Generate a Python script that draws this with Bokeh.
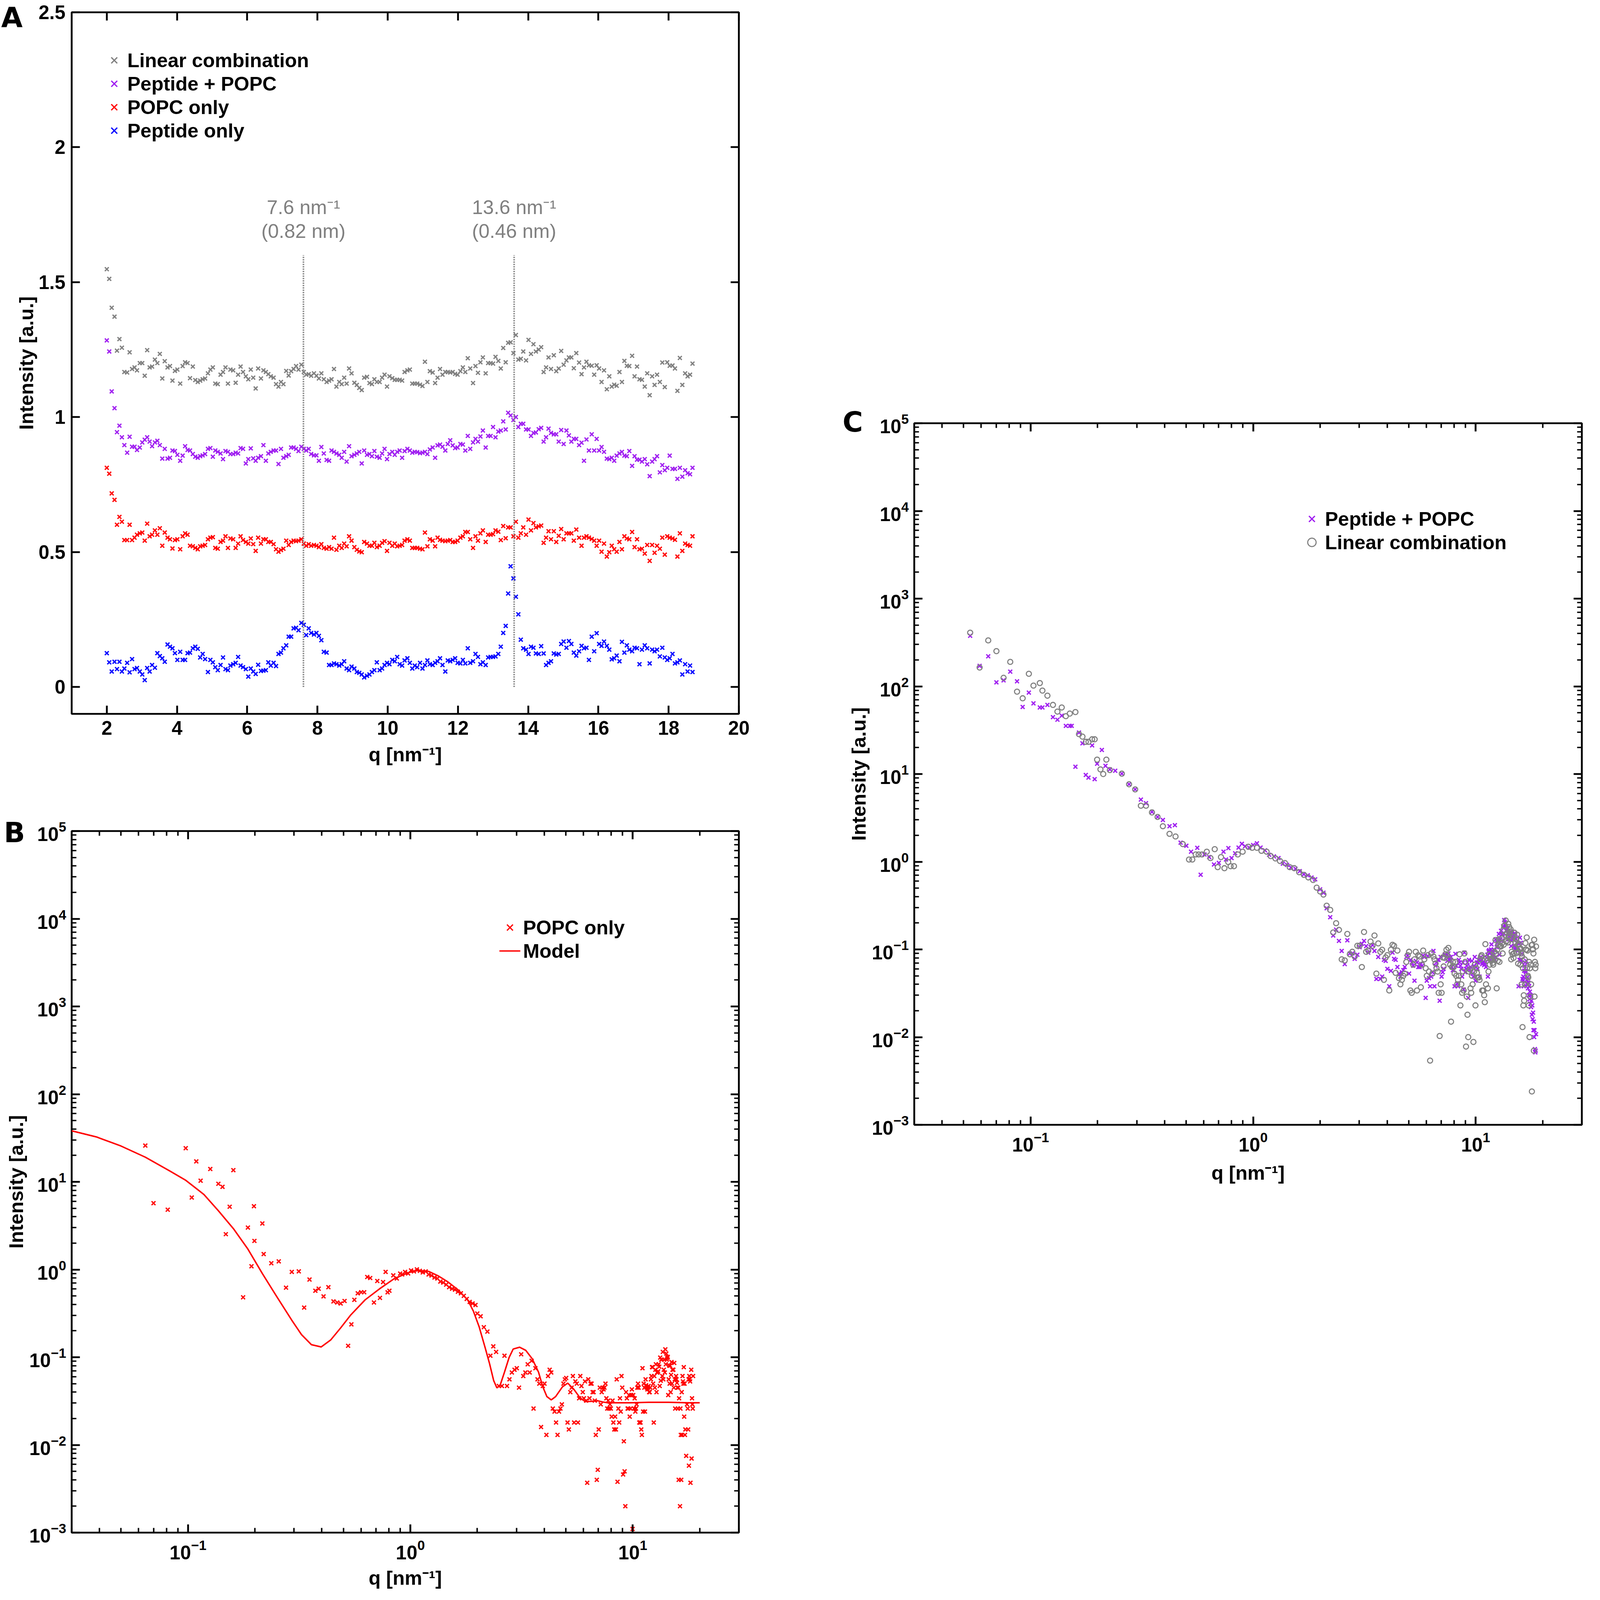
from bokeh.plotting import figure
from bokeh.models import (FixedTicker, LinearAxis, LogAxis, Legend, LegendItem,
                          Label, Range1d, Spacer, Div)
from bokeh.layouts import row, column
from bokeh.embed import file_html
from bokeh.resources import INLINE

NAN = float("nan")
FONT = "Liberation Sans"
GRAY = "#808080"
PURPLE = "#A020F0"
RED = "#FF0000"
BLUE = "#0000FF"

# ---------------- data ----------------
q_waxs = [
    2.00, 2.07, 2.14, 2.22, 2.29, 2.36, 2.43, 2.50, 2.58, 2.65,
    2.72, 2.79, 2.86, 2.94, 3.01, 3.08, 3.15, 3.22, 3.29, 3.37,
    3.44, 3.51, 3.58, 3.65, 3.73, 3.80, 3.87, 3.94, 4.01, 4.09,
    4.16, 4.23, 4.30, 4.37, 4.45, 4.52, 4.59, 4.66, 4.73, 4.80,
    4.88, 4.95, 5.02, 5.09, 5.16, 5.24, 5.31, 5.38, 5.45, 5.52,
    5.60, 5.67, 5.74, 5.81, 5.88, 5.96, 6.03, 6.10, 6.17, 6.24,
    6.31, 6.39, 6.46, 6.53, 6.60, 6.67, 6.75, 6.82, 6.89, 6.96,
    7.03, 7.11, 7.18, 7.25, 7.32, 7.39, 7.46, 7.54, 7.61, 7.68,
    7.75, 7.82, 7.90, 7.97, 8.04, 8.11, 8.18, 8.26, 8.33, 8.40,
    8.47, 8.54, 8.62, 8.69, 8.76, 8.83, 8.90, 8.97, 9.05, 9.12,
    9.19, 9.26, 9.33, 9.41, 9.48, 9.55, 9.62, 9.69, 9.77, 9.84,
    9.91, 9.98, 10.05, 10.13, 10.20, 10.27, 10.34, 10.41, 10.48, 10.56,
    10.63, 10.70, 10.77, 10.84, 10.92, 10.99, 11.06, 11.13, 11.20, 11.28,
    11.35, 11.42, 11.49, 11.56, 11.64, 11.71, 11.78, 11.85, 11.92, 11.99,
    12.07, 12.14, 12.21, 12.28, 12.35, 12.43, 12.50, 12.57, 12.64, 12.71,
    12.79, 12.86, 12.93, 13.00, 13.07, 13.15, 13.22, 13.29, 13.36, 13.43,
    13.50, 13.58, 13.65, 13.72, 13.79, 13.86, 13.94, 14.01, 14.08, 14.15,
    14.22, 14.30, 14.37, 14.44, 14.51, 14.58, 14.65, 14.73, 14.80, 14.87,
    14.94, 15.01, 15.09, 15.16, 15.23, 15.30, 15.37, 15.45, 15.52, 15.59,
    15.66, 15.73, 15.81, 15.88, 15.95, 16.02, 16.09, 16.16, 16.24, 16.31,
    16.38, 16.45, 16.52, 16.60, 16.67, 16.74, 16.81, 16.88, 16.96, 17.03,
    17.10, 17.17, 17.24, 17.32, 17.39, 17.46, 17.53, 17.60, 17.67, 17.75,
    17.82, 17.89, 17.96, 18.03, 18.11, 18.18, 18.25, 18.32, 18.39, 18.47,
    18.54, 18.61, 18.68,
]

a_linear_comb = [
    1.548, 1.512, 1.405, 1.372, 1.246, 1.289, 1.257, 1.167, 1.165, 1.240,
    1.178, 1.184, 1.173, 1.200, 1.200, 1.153, 1.248, 1.184, 1.187, 1.213,
    1.200, 1.234, 1.143, 1.207, 1.184, 1.189, 1.135, 1.171, 1.176, 1.124,
    1.189, 1.203, 1.200, 1.144, 1.187, 1.137, 1.130, 1.135, 1.140, 1.143,
    1.162, 1.176, 1.184, 1.124, 1.122, 1.157, 1.167, 1.184, 1.124, 1.176,
    1.173, 1.127, 1.157, 1.187, 1.167, 1.151, 1.140, 1.176, 1.146, 1.106,
    1.180, 1.143, 1.173, 1.167, 1.159, 1.151, 1.146, 1.122, 1.113, 1.130,
    1.122, 1.171, 1.154, 1.170, 1.178, 1.189, 1.176, 1.194, 1.167, 1.157,
    1.159, 1.153, 1.162, 1.153, 1.143, 1.162, 1.140, 1.130, 1.135, 1.140,
    1.178, 1.113, 1.130, 1.122, 1.146, 1.124, 1.180, 1.162, 1.127, 1.119,
    1.108, 1.100, 1.146, 1.149, 1.126, 1.122, 1.140, 1.130, 1.130, 1.146,
    1.157, 1.113, 1.151, 1.144, 1.138, 1.138, 1.138, 1.135, 1.167, 1.173,
    1.176, 1.124, 1.124,
    1.124, 1.120, 1.115, 1.205, 1.130, 1.170, 1.165, 1.126, 1.146, 1.178,
    1.157, 1.167, 1.167, 1.165, 1.167, 1.160, 1.157, 1.170, 1.184, 1.167,
    1.218, 1.180, 1.126, 1.189, 1.164, 1.203, 1.221, 1.162, 1.200, 1.200,
    1.198, 1.223, 1.208, 1.180, 1.256, 1.203, 1.275, 1.277, 1.237, 1.304,
    1.213, 1.216, 1.243, 1.210, 1.286, 1.234, 1.270, 1.243, 1.250, 1.259,
    1.167, 1.184, 1.221, 1.178, 1.229, 1.170, 1.180, 1.245, 1.194, 1.210,
    1.221, 1.221, 1.181, 1.237, 1.202, 1.159, 1.184, 1.205, 1.192, 1.190,
    1.157, 1.192, 1.180, 1.130, 1.173, 1.103, 1.151, 1.113, 1.120, 1.116,
    1.167, 1.130, 1.208, 1.190, 1.189, 1.227, 1.151, 1.187, 1.140, 1.138,
    1.113, 1.162, 1.081, 1.151, 1.119, 1.157, 1.130, 1.202, 1.111, 1.203,
    1.190, 1.191, 1.180, 1.097, 1.219, 1.119, 1.162, 1.151, 1.157, 1.198,
]

a_peptide_popc = [
    1.284, 1.243, 1.095, 1.033, 0.944, 0.968, 0.925, 0.896, 0.868, 0.927,
    0.890, 0.890, 0.878, 0.887, 0.906, 0.916, 0.925, 0.909, 0.892, 0.906,
    0.912, 0.896, 0.846, 0.882, 0.846, 0.849, 0.876, 0.874, 0.860, 0.838,
    0.857, 0.892, 0.878, 0.876, 0.863, 0.853, 0.849, 0.855, 0.858, 0.863,
    0.882, 0.885, 0.853, 0.876, 0.871, 0.865, 0.844, 0.874, 0.871, 0.863,
    0.863, 0.868, 0.865, 0.885, 0.882, 0.828, 0.844, 0.884, 0.847, 0.838,
    0.849, 0.855, 0.896, 0.838, 0.865, 0.871, 0.876, 0.876, 0.826, 0.882,
    0.849, 0.855, 0.860, 0.887, 0.887, 0.882, 0.874, 0.890, 0.882, 0.876,
    0.882, 0.863, 0.858, 0.858, 0.838, 0.889, 0.865, 0.841, 0.838, 0.876,
    0.871, 0.865, 0.860, 0.849, 0.871, 0.835, 0.892, 0.855, 0.860, 0.865,
    0.871, 0.828, 0.876, 0.860, 0.863, 0.855, 0.874, 0.853, 0.849, 0.865,
    0.882, 0.844, 0.863, 0.871, 0.860, 0.871, 0.876, 0.849, 0.874, 0.882,
    0.876, 0.868, 0.871,
    0.870, 0.866, 0.868, 0.871, 0.863, 0.880, 0.887, 0.849, 0.895, 0.898,
    0.890, 0.876, 0.900, 0.914, 0.895, 0.885, 0.887, 0.900, 0.898, 0.876,
    0.930, 0.882, 0.906, 0.919, 0.909, 0.928, 0.950, 0.887, 0.930, 0.930,
    0.963, 0.925, 0.946, 0.950, 0.984, 0.954, 1.016, 1.006, 0.989, 1.000,
    0.963, 0.975, 0.975, 0.954, 0.954, 0.930, 0.941, 0.943, 0.955, 0.960,
    0.909, 0.925, 0.957, 0.941, 0.936, 0.936, 0.909, 0.952, 0.900, 0.950,
    0.932, 0.909, 0.919, 0.919, 0.896, 0.905, 0.838, 0.917, 0.876, 0.936,
    0.876, 0.919, 0.876, 0.889, 0.871, 0.846, 0.844, 0.849, 0.838, 0.857,
    0.865, 0.871, 0.857, 0.855, 0.874, 0.819, 0.855, 0.842, 0.842, 0.835,
    0.844, 0.825, 0.781, 0.835, 0.844, 0.855, 0.795, 0.822, 0.803, 0.812,
    0.857, 0.808, 0.808, 0.771, 0.812, 0.779, 0.803, 0.792, 0.788, 0.812,
]

a_popc_only = [
    0.812, 0.790, 0.717, 0.693, 0.601, 0.630, 0.612, 0.544, 0.544, 0.601,
    0.544, 0.553, 0.564, 0.569, 0.572, 0.542, 0.605, 0.558, 0.564, 0.580,
    0.564, 0.588, 0.523, 0.572, 0.553, 0.547, 0.513, 0.544, 0.547, 0.510,
    0.558, 0.569, 0.564, 0.523, 0.521, 0.515, 0.510, 0.521, 0.523, 0.526,
    0.547, 0.553, 0.555, 0.515, 0.512, 0.537, 0.542, 0.558, 0.515, 0.550,
    0.547, 0.515, 0.531, 0.558, 0.544, 0.537, 0.531, 0.550, 0.529, 0.504,
    0.553, 0.531, 0.547, 0.547, 0.537, 0.537, 0.529, 0.510, 0.501, 0.507,
    0.512, 0.542, 0.526, 0.537, 0.542, 0.540, 0.542, 0.547, 0.531, 0.523,
    0.529, 0.523, 0.526, 0.523, 0.518, 0.529, 0.515, 0.512, 0.518, 0.512,
    0.553, 0.508, 0.523, 0.515, 0.531, 0.521, 0.558, 0.542, 0.518, 0.508,
    0.502, 0.499, 0.537, 0.531, 0.523, 0.523, 0.534, 0.518, 0.523, 0.534,
    0.540, 0.504, 0.534, 0.523, 0.531, 0.521, 0.523, 0.526, 0.542, 0.547,
    0.542, 0.515, 0.515,
    0.515, 0.512, 0.510, 0.572, 0.521, 0.547, 0.542, 0.521, 0.553, 0.545,
    0.542, 0.540, 0.542, 0.544, 0.537, 0.537, 0.542, 0.553, 0.558, 0.574,
    0.574, 0.547, 0.515, 0.558, 0.542, 0.569, 0.580, 0.537, 0.564, 0.564,
    0.566, 0.580, 0.575, 0.544, 0.596, 0.551, 0.591, 0.591, 0.558, 0.612,
    0.553, 0.569, 0.591, 0.564, 0.620, 0.580, 0.607, 0.591, 0.595, 0.598,
    0.534, 0.553, 0.577, 0.547, 0.577, 0.537, 0.560, 0.585, 0.547, 0.569,
    0.569, 0.569, 0.542, 0.583, 0.553, 0.523, 0.553, 0.558, 0.553, 0.548,
    0.542, 0.523, 0.542, 0.501, 0.531, 0.483, 0.499, 0.523, 0.510, 0.501,
    0.537, 0.510, 0.558, 0.550, 0.547, 0.574, 0.518, 0.547, 0.510, 0.512,
    0.494, 0.526, 0.467, 0.526, 0.497, 0.523, 0.512, 0.553, 0.490, 0.558,
    0.553, 0.550, 0.545, 0.483, 0.569, 0.504, 0.531, 0.526, 0.523, 0.558,
]

a_peptide_only = [
    0.125, 0.091, 0.057, 0.093, 0.066, 0.093, 0.057, 0.068, 0.089, 0.054,
    0.103, 0.066, 0.070, 0.057, 0.046, 0.025, 0.070, 0.057, 0.081, 0.071,
    0.125, 0.114, 0.106, 0.093, 0.157, 0.149, 0.143, 0.125, 0.100, 0.130,
    0.100, 0.100, 0.125, 0.127, 0.143, 0.149, 0.141, 0.109, 0.122, 0.103,
    0.055, 0.100, 0.091, 0.073, 0.062, 0.081, 0.109, 0.066, 0.062, 0.079,
    0.084, 0.089, 0.111, 0.079, 0.073, 0.066, 0.038, 0.068, 0.057, 0.048,
    0.082, 0.059, 0.060, 0.062, 0.091, 0.079, 0.089, 0.077, 0.122, 0.127,
    0.143, 0.154, 0.186, 0.186, 0.217, 0.219, 0.210, 0.237, 0.230, 0.192,
    0.217, 0.200, 0.194, 0.200, 0.189, 0.173, 0.130, 0.127, 0.081, 0.081,
    0.087, 0.084, 0.079, 0.084, 0.095, 0.068, 0.062, 0.075, 0.068, 0.055,
    0.052, 0.046, 0.035, 0.041, 0.046, 0.055, 0.062, 0.091, 0.062, 0.068,
    0.081, 0.089, 0.084, 0.100, 0.095, 0.111, 0.084, 0.079, 0.098, 0.106,
    0.089, 0.068, 0.079,
    0.073, 0.089, 0.068, 0.081, 0.098, 0.084, 0.081, 0.089, 0.095, 0.106,
    0.081, 0.057, 0.098, 0.095, 0.100, 0.106, 0.089, 0.087, 0.100, 0.087,
    0.143, 0.089, 0.095, 0.122, 0.111, 0.084, 0.091, 0.081, 0.109, 0.111,
    0.111, 0.113, 0.122, 0.149, 0.200, 0.226, 0.346, 0.447, 0.402, 0.334,
    0.269, 0.175, 0.143, 0.138, 0.122, 0.149, 0.145, 0.124, 0.122, 0.151,
    0.124, 0.081, 0.089, 0.095, 0.124, 0.120, 0.122, 0.159, 0.168, 0.145,
    0.170, 0.159, 0.127, 0.116, 0.132, 0.152, 0.143, 0.145, 0.100, 0.186,
    0.132, 0.199, 0.159, 0.152, 0.168, 0.152, 0.138, 0.102, 0.106, 0.116,
    0.095, 0.167, 0.127, 0.154, 0.138, 0.132, 0.145, 0.143, 0.084, 0.138,
    0.154, 0.143, 0.087, 0.138, 0.132, 0.138, 0.113, 0.145, 0.109, 0.100,
    0.106, 0.122, 0.087, 0.091, 0.098, 0.046, 0.084, 0.057, 0.079, 0.055,
]

peak_q = [7.6, 13.6]
peak_line_top = [1.6, 1.6]
peak_label_q = ["7.6 nm\u207b\u00b9", "13.6 nm\u207b\u00b9"]
peak_label_d = ["(0.82 nm)", "(0.46 nm)"]

b_q_saxs = [
    0.0643, 0.0700, 0.0811, 0.0977, 0.104, 0.109, 0.114, 0.126, 0.137, 0.143,
    0.148, 0.154, 0.160, 0.177, 0.186, 0.193, 0.198, 0.199, 0.216, 0.219,
    0.237, 0.256, 0.276, 0.293, 0.315, 0.333, 0.352, 0.374, 0.387, 0.407,
    0.428, 0.451, 0.469, 0.486, 0.506, 0.525, 0.543, 0.560, 0.580, 0.601,
    0.620, 0.640, 0.660, 0.686, 0.710, 0.730, 0.754, 0.774, 0.790, 0.805,
    0.838, 0.869, 0.900, 0.919, 0.947, 0.977, 1.007, 1.038, 1.070, 1.103,
    1.137, 1.172, 1.208, 1.245, 1.284, 1.323, 1.364, 1.406, 1.449, 1.494,
    1.540, 1.587, 1.636, 1.687, 1.739, 1.792, 1.848, 1.905, 1.963,
]
b_i_saxs = [
    25.9, 5.71, 4.81, 24.2, 6.62, 17.1, 10.3, 14.0, 9.5, 8.77,
    2.53, 5.2, 13.6, 0.482, 3.01, 1.09, 5.27, 2.12, 3.35, 1.5,
    1.18, 1.24, 0.621, 0.94, 0.953, 0.368, 0.769, 0.573, 0.604, 0.494,
    0.629, 0.433, 0.421, 0.41, 0.438, 0.135, 0.237, 0.451, 0.536, 0.551,
    0.551, 0.822, 0.80, 0.421, 0.74, 0.475, 0.72, 0.94, 0.55, 0.573,
    0.858, 0.79, 0.90, 0.879, 0.940, 0.902, 0.977, 0.952, 1.005, 0.966,
    0.927, 0.952, 0.879, 0.855, 0.811, 0.790, 0.729, 0.710, 0.673, 0.629,
    0.604, 0.589, 0.558, 0.536, 0.501, 0.462, 0.427, 0.410, 0.394,
]
b_i_waxs = [
    0.315, 0.293, 0.220, 0.196, 0.104, 0.133, 0.115, 0.047, 0.047, 0.104,
    0.047, 0.056, 0.067, 0.072, 0.075, 0.045, 0.108, 0.061, 0.067, 0.083,
    0.067, 0.091, 0.026, 0.075, 0.056, 0.050, 0.016, 0.047, 0.050, 0.013,
    0.061, 0.072, 0.067, 0.026, 0.024, 0.018, 0.013, 0.024, 0.026, 0.029,
    0.050, 0.056, 0.058, 0.018, 0.015, 0.040, 0.045, 0.061, 0.018, 0.053,
    0.050, 0.018, 0.034, 0.061, 0.047, 0.040, 0.034, 0.053, 0.032, 0.0037,
    0.056, 0.034, 0.050, 0.050, 0.040, 0.040, 0.032, 0.013, 0.004, 0.0052,
    0.015, 0.045, 0.029, 0.040, 0.045, 0.043, 0.045, 0.050, 0.034, 0.026,
    0.032, 0.026, 0.029, 0.026, 0.021, 0.032, 0.018, 0.015, 0.021, 0.015,
    0.056, 0.0038, 0.026, 0.018, 0.034, 0.024, 0.061, 0.045, 0.0046, 0.011,
    0.005, 0.002, 0.040, 0.034, 0.026, 0.026, 0.037, 0.021, 0.026, 0.037,
    0.043, 0.0011, 0.037, 0.026, 0.034, 0.024, 0.026, 0.029, 0.045, 0.050,
    0.045, 0.018, 0.018, 0.018, 0.015, 0.013, 0.075, 0.024, 0.050, 0.045,
    0.024, 0.056, 0.048, 0.045, 0.043, 0.045, 0.047, 0.040, 0.040, 0.045,
    0.056, 0.061, 0.077, 0.077, 0.050, 0.018, 0.061, 0.045, 0.072, 0.083,
    0.040, 0.067, 0.067, 0.069, 0.083, 0.078, 0.047, 0.099, 0.054, 0.094,
    0.094, 0.061, 0.115, 0.056, 0.072, 0.094, 0.067, 0.123, 0.083, 0.110,
    0.094, 0.098, 0.101, 0.037, 0.056, 0.080, 0.050, 0.080, 0.040, 0.063,
    0.088, 0.050, 0.072, 0.072, 0.072, 0.045, 0.086, 0.056, 0.026, 0.056,
    0.061, 0.056, 0.051, 0.045, 0.026, 0.045, 0.004, 0.034, NAN, 0.002,
    0.026, 0.013, 0.004, 0.040, 0.013, 0.061, 0.053, 0.050, 0.077, 0.021,
    0.050, 0.013, 0.015, NAN, 0.0075, NAN, 0.029, NAN, 0.026, 0.015,
    0.056, 0.0058, 0.061, 0.056, 0.053, 0.0037, NAN, 0.072, 0.007, 0.034,
    0.029, 0.026, 0.061,
]
model_q = [
    0.030, 0.0388, 0.050, 0.0643, 0.0828, 0.0978, 0.118, 0.137, 0.160, 0.186,
    0.216, 0.252, 0.293, 0.324, 0.359, 0.397, 0.439, 0.486, 0.538, 0.626,
    0.728, 0.848, 0.987, 1.092, 1.208, 1.337, 1.479, 1.636, 1.81, 1.92,
    2.04, 2.17, 2.27, 2.37, 2.45, 2.53, 2.65, 2.78, 2.90, 3.10,
    3.30, 3.53, 3.77, 3.94, 4.11, 4.30, 4.50, 4.83, 5.10, 5.43,
    5.79, 6.12, 6.54, 6.93, 7.33, 7.73, 9.70, 11.8, 14.5, 17.8, 20.0,
]
model_i = [
    38.2, 32.5, 25.6, 19.1, 13.3, 10.4, 7.17, 4.68, 2.93, 1.71,
    0.90, 0.481, 0.264, 0.181, 0.139, 0.131, 0.158, 0.216, 0.301, 0.451,
    0.604, 0.79, 0.927, 0.977, 0.952, 0.844, 0.719, 0.589, 0.451, 0.336,
    0.221, 0.128, 0.0847, 0.054, 0.0447, 0.0475, 0.0676, 0.0993, 0.124, 0.130,
    0.12, 0.0962, 0.0676, 0.046, 0.0356, 0.0326, 0.0356, 0.046, 0.0507, 0.0432,
    0.0345, 0.0312, 0.0314, 0.0319, 0.0309, 0.0302, 0.0302, 0.0306, 0.0306, 0.0302, 0.0302,
]

c_q_saxs_pp = [
    0.0535, 0.059, 0.0645, 0.0702, 0.0756, 0.081, 0.0869, 0.0921, 0.0982, 0.103,
    0.110, 0.113, 0.119, 0.126, 0.132, 0.138, 0.144, 0.150, 0.153, 0.159,
    0.165, 0.171, 0.177, 0.182, 0.189, 0.194, 0.199, 0.209, 0.217, 0.227,
    0.240, 0.257, 0.277, 0.295, 0.313, 0.330, 0.351, 0.372, 0.393, 0.421,
    0.445, 0.472, 0.501, 0.526, 0.561, 0.581, 0.604, 0.635, 0.667, 0.701,
    0.736, 0.755, 0.774, 0.800, 0.830, 0.860, 0.890, 0.920, 0.960, 1.000,
    1.040, 1.080, 1.130, 1.180, 1.240, 1.300, 1.360, 1.420, 1.480, 1.550,
    1.620, 1.690, 1.760, 1.830, 1.900,
]
c_i_saxs_pp = [
    377, 171, 220, 111, 117, 147, 114, 58.2, 84.8, 63.9,
    57.4, 57.4, 61.4, 44.5, 41.6, 46.3, 35.4, 35.4, 35.4, 12.1,
    29.7, 22.4, 9.75, 9.1, 21.2, 8.75, 13.1, 18.8, 12.4, 11.3,
    10.9, 10.1, 7.64, 6.68, 5.11, 4.65, 3.70, 3.24, 2.99, 2.54,
    2.61, 1.65, 1.52, 1.30, 1.44, 0.71, 1.21, 1.13, 0.93, 0.97,
    1.30, 1.06, 1.43, 1.10, 1.25, 1.45, 1.60, 1.50, 1.45, 1.55,
    1.62, 1.45, 1.35, 1.20, 1.15, 1.10, 0.95, 0.92, 0.86, 0.83,
    0.78, 0.72, 0.70, 0.66, 0.63,
]
c_i_waxs_pp = [
    0.484, 0.443, 0.295, 0.233, 0.144, 0.168, 0.125, 0.096, 0.068, 0.127,
    0.090, 0.090, 0.078, 0.087, 0.106, 0.116, 0.125, 0.109, 0.092, 0.106,
    0.112, 0.096, 0.046, 0.082, 0.046, 0.049, 0.076, 0.074, 0.060, 0.038,
    0.057, 0.092, 0.078, 0.076, 0.063, 0.053, 0.049, 0.055, 0.058, 0.063,
    0.082, 0.085, 0.053, 0.076, 0.071, 0.065, 0.044, 0.074, 0.071, 0.063,
    0.063, 0.068, 0.065, 0.085, 0.082, 0.028, 0.044, 0.084, 0.047, 0.038,
    0.049, 0.055, 0.096, 0.038, 0.065, 0.071, 0.076, 0.076, 0.026, 0.082,
    0.049, 0.055, 0.060, 0.087, 0.087, 0.082, 0.074, 0.090, 0.082, 0.076,
    0.082, 0.063, 0.058, 0.058, 0.038, 0.089, 0.065, 0.041, 0.038, 0.076,
    0.071, 0.065, 0.060, 0.049, 0.071, 0.035, 0.092, 0.055, 0.060, 0.065,
    0.071, 0.028, 0.076, 0.060, 0.063, 0.055, 0.074, 0.053, 0.049, 0.065,
    0.082, 0.044, 0.063, 0.071, 0.060, 0.071, 0.076, 0.049, 0.074, 0.082,
    0.076, 0.068, 0.071, 0.070, 0.066, 0.068, 0.071, 0.063, 0.080, 0.087,
    0.049, 0.095, 0.098, 0.090, 0.076, 0.100, 0.114, 0.095, 0.085, 0.087,
    0.100, 0.098, 0.076, 0.130, 0.082, 0.106, 0.119, 0.109, 0.128, 0.150,
    0.087, 0.130, 0.130, 0.163, 0.125, 0.146, 0.150, 0.184, 0.154, 0.216,
    0.206, 0.189, 0.200, 0.163, 0.175, 0.175, 0.154, 0.154, 0.130, 0.141,
    0.143, 0.155, 0.160, 0.109, 0.125, 0.157, 0.141, 0.136, 0.136, 0.109,
    0.152, 0.100, 0.150, 0.132, 0.109, 0.119, 0.119, 0.096, 0.105, 0.038,
    0.117, 0.076, 0.136, 0.076, 0.119, 0.076, 0.089, 0.071, 0.046, 0.044,
    0.049, 0.038, 0.057, 0.065, 0.071, 0.057, 0.055, 0.074, 0.045, 0.040,
    0.048, 0.036, 0.042, 0.030, 0.038, 0.027, 0.033, 0.024, 0.030, 0.022,
    0.026, 0.018, 0.023, 0.016, 0.019, 0.012, 0.015, 0.010, 0.012, 0.0073,
    0.0067, 0.0070, 0.0108,
]
c_q_saxs_lc = [
    0.0535, 0.059, 0.0645, 0.0702, 0.0756, 0.081, 0.0869, 0.0921, 0.0982, 0.103,
    0.110, 0.113, 0.119, 0.126, 0.132, 0.138, 0.144, 0.150, 0.159, 0.165,
    0.171, 0.177, 0.182, 0.189, 0.194, 0.199, 0.206, 0.212, 0.219, 0.227,
    0.257, 0.277, 0.295, 0.313, 0.330, 0.351, 0.372, 0.393, 0.421, 0.448,
    0.483, 0.515, 0.533, 0.552, 0.569, 0.589, 0.619, 0.643, 0.672, 0.693,
    0.717, 0.743, 0.773, 0.792, 0.820, 0.853, 0.897, 0.952, 0.990, 1.040,
    1.090, 1.150, 1.200, 1.260, 1.320, 1.390, 1.460, 1.530, 1.610, 1.690,
    1.770, 1.860, 1.930,
]
c_i_saxs_lc = [
    409, 164, 334, 252, 125, 190, 87, 73.1, 139, 102,
    109, 89.5, 78.2, 61.4, 51.5, 57.4, 45.7, 48.9, 50.9, 28.5,
    26.7, 23.3, 23.3, 24.9, 24.9, 14.6, 11.3, 10.0, 14.6, 11.1,
    10.1, 7.64, 6.68, 4.35, 4.35, 3.65, 3.24, 2.54, 2.08, 1.94,
    1.59, 1.06, 1.06, 1.21, 1.21, 1.21, 1.30, 1.10, 1.39, 0.867,
    1.13, 0.844, 0.99, 0.889, 0.889, 1.21, 1.30, 1.48, 1.44, 1.44,
    1.33, 1.30, 1.16, 1.09, 1.02, 0.966, 0.867, 0.844, 0.759, 0.708,
    0.662, 0.619, 0.506,
]
c_i_waxs_lc = [
    0.458, 0.422, 0.315, 0.282, 0.156, 0.199, 0.167, 0.077, 0.075, 0.150,
    0.088, 0.094, 0.083, 0.110, 0.110, 0.063, 0.158, 0.094, 0.097, 0.123,
    0.110, 0.144, 0.053, 0.117, 0.094, 0.099, 0.045, 0.081, 0.086, 0.034,
    0.099, 0.113, 0.110, 0.054, 0.097, 0.047, 0.040, 0.045, 0.050, 0.053,
    0.072, 0.086, 0.094, 0.034, 0.032, 0.067, 0.077, 0.094, 0.034, 0.086,
    0.083, 0.037, 0.067, 0.097, 0.077, 0.061, 0.050, 0.086, 0.056, 0.0054,
    0.090, 0.053, 0.083, 0.077, 0.069, 0.061, 0.056, 0.032, 0.0103, 0.040,
    0.032, 0.081, 0.064, 0.080, 0.088, 0.099, 0.086, 0.104, 0.077, 0.067,
    0.015, 0.063, 0.072, 0.063, 0.053, 0.072, 0.050, 0.040, 0.045, 0.050,
    0.088, 0.023, 0.040, 0.032, 0.056, 0.034, 0.090, 0.072, 0.0078, 0.029,
    0.018, 0.010, 0.056, 0.059, 0.036, 0.032, 0.050, 0.040, 0.0088, 0.056,
    0.067, 0.023, 0.061, 0.054, 0.048, 0.048, 0.048, 0.045, 0.077, 0.083,
    0.086, 0.034, 0.034, 0.034, 0.030, 0.025, 0.115, 0.040, 0.080, 0.075,
    0.036, 0.056, 0.088, 0.067, 0.077, 0.077, 0.075, 0.077, 0.070, 0.067,
    0.080, 0.094, 0.077, 0.128, 0.090, 0.036, 0.099, 0.074, 0.113, 0.131,
    0.072, 0.110, 0.110, 0.108, 0.133, 0.118, 0.090, 0.166, 0.113, 0.185,
    0.187, 0.147, 0.214, 0.123, 0.126, 0.153, 0.120, 0.196, 0.144, 0.180,
    0.153, 0.160, 0.169, 0.077, 0.094, 0.131, 0.088, 0.139, 0.080, 0.090,
    0.155, 0.104, 0.120, 0.131, 0.131, 0.091, 0.147, 0.112, 0.069, 0.094,
    0.115, 0.102, 0.100, 0.067, 0.102, 0.090, 0.040, 0.083, 0.013, 0.061,
    0.023, 0.030, 0.026, 0.077, 0.040, 0.118, 0.100, 0.099, 0.137, 0.061,
    0.097, 0.050, 0.048, 0.023, 0.072, 0.010, 0.061, 0.029, 0.067, 0.040,
    0.112, 0.0024, 0.113, 0.100, 0.101, 0.090, 0.007, 0.129, 0.029, 0.072,
    0.061, 0.067, 0.108,
]

A_X_TICKS = [2, 4, 6, 8, 10, 12, 14, 16, 18, 20]
A_Y_TICKS = [0, 0.5, 1, 1.5, 2, 2.5]
A_Y_LABELS = ["0", "0.5", "1", "1.5", "2", "2.5"]
LOG_X_TICKS = [0.1, 1, 10]
LOG_Y_TICKS = [1e-3, 1e-2, 1e-1, 1, 1e1, 1e2, 1e3, 1e4, 1e5]
LOG_X_MINOR = [k * 10.0 ** n for n in (-2, -1, 0, 1) for k in range(2, 10)
               if 0.029 <= k * 10.0 ** n <= 31]
LOG_Y_MINOR = [k * 10.0 ** n for n in range(-3, 5) for k in range(2, 10)]

for name, arr in [("a1", a_linear_comb), ("a2", a_peptide_popc), ("a3", a_popc_only),
                  ("a4", a_peptide_only), ("b", b_i_waxs), ("c1", c_i_waxs_pp), ("c2", c_i_waxs_lc)]:
    assert len(arr) == len(q_waxs), (name, len(arr))


def join(qs, vs, qw, vw):
    xs, ys = list(qs), list(vs)
    for q, v in zip(qw, vw):
        if v == v and v > 0:
            xs.append(q)
            ys.append(v)
    return xs, ys


# the page is displayed slightly enlarged; pixel sizes are scaled by S
S = 0.934


def z(v):
    return v * S


TICK_FS = "%.1fpx" % z(53)
LABEL_FS = "%.1fpx" % z(54)
LETTER_FS = "%.1fpx" % z(76)


def style_axis(ax, minor=True, standoff=15, label_standoff=10):
    ax.axis_line_color = None
    ax.major_tick_in = round(z(22))
    ax.major_tick_out = 0
    ax.major_tick_line_width = z(5)
    ax.major_tick_line_color = "black"
    if minor:
        ax.minor_tick_in = round(z(13))
        ax.minor_tick_out = 0
        ax.minor_tick_line_width = z(4)
        ax.minor_tick_line_color = "black"
    else:
        ax.minor_tick_line_color = None
    ax.major_label_text_font = FONT
    ax.major_label_text_font_style = "bold"
    ax.major_label_text_font_size = TICK_FS
    ax.major_label_text_color = "black"
    ax.major_label_standoff = round(z(standoff))
    ax.axis_label_text_font = FONT
    ax.axis_label_text_font_style = "bold"
    ax.axis_label_text_font_size = LABEL_FS
    ax.axis_label_text_color = "black"
    ax.axis_label_standoff = round(z(label_standoff))


def add_mirror(p, side, log, ticks, minor_ticks):
    cls = LogAxis if log else LinearAxis
    ax = cls(ticker=FixedTicker(ticks=ticks, minor_ticks=minor_ticks))
    style_axis(ax, minor=bool(minor_ticks), standoff=0)
    ax.major_label_overrides = {t: "" for t in ticks}
    ax.major_label_text_font_size = "1px"
    p.add_layout(ax, side)


def make_fig(width, height, xr, yr, log, borders):
    left, right, top, bottom = borders
    p = figure(width=width, height=height, x_range=xr, y_range=yr,
               x_axis_type="log" if log else "linear",
               y_axis_type="log" if log else "linear",
               output_backend="svg", toolbar_location=None, tools="",
               min_border_left=left, min_border_right=right,
               min_border_top=top, min_border_bottom=bottom)
    p.grid.visible = False
    p.outline_line_color = "black"
    p.outline_line_width = z(5)
    p.background_fill_color = "white"
    p.border_fill_color = None
    return p


def make_legend(items, loc):
    leg = Legend(items=items, location=loc)
    leg.label_text_font = FONT
    leg.label_text_font_style = "bold"
    leg.label_text_font_size = LABEL_FS
    leg.label_text_color = "black"
    leg.border_line_color = None
    leg.background_fill_alpha = 0
    leg.glyph_width = round(z(58))
    leg.glyph_height = round(z(64))
    leg.label_height = round(z(64))
    leg.label_standoff = round(z(7))
    leg.spacing = 0
    leg.padding = 0
    leg.margin = 0
    return leg


def letter_div(letter, left, top, width):
    html = ('<div style="position:relative;left:%dpx;top:%dpx;font-family:\'DejaVu Sans\';'
            'font-weight:bold;font-size:%s;line-height:1;color:#000;white-space:nowrap;">%s</div>'
            % (left, top, LETTER_FS, letter))
    return Div(text=html, width=width, height=1, margin=(0, 0, 0, 0))


MS = z(15)
LW = z(3.5)

# ---------------- Panel A (frame 1708 x 1796) ----------------
pA = make_fig(1942, 1999, Range1d(1, 20), Range1d(-0.1, 2.5), False, (183, 51, 30, 173))
xa, ya = pA.below[0], pA.left[0]
xa.ticker = FixedTicker(ticks=A_X_TICKS)
ya.ticker = FixedTicker(ticks=A_Y_TICKS)
ya.major_label_overrides = dict(zip(A_Y_TICKS, A_Y_LABELS))
style_axis(xa, minor=False, standoff=19, label_standoff=20)
style_axis(ya, minor=False, standoff=17, label_standoff=0)
xa.axis_label = "q [nm\u207b\u00b9]"
ya.axis_label = "Intensity [a.u.]"
add_mirror(pA, "above", False, A_X_TICKS, [])
add_mirror(pA, "right", False, A_Y_TICKS, [])

rA1 = pA.scatter(q_waxs, a_linear_comb, marker="x", size=MS, line_width=LW, color=GRAY)
rA2 = pA.scatter(q_waxs, a_peptide_popc, marker="x", size=MS, line_width=LW, color=PURPLE)
rA3 = pA.scatter(q_waxs, a_popc_only, marker="x", size=MS, line_width=LW, color=RED)
rA4 = pA.scatter(q_waxs, a_peptide_only, marker="x", size=MS, line_width=LW, color=BLUE)
pA.segment(x0=peak_q, y0=[0, 0], x1=peak_q, y1=peak_line_top,
           line_color=GRAY, line_width=z(4.5), line_dash="3 3")
for xq, t1, t2 in zip(peak_q, peak_label_q, peak_label_d):
    pA.add_layout(Label(x=xq, y=1.778, text=t1, text_align="center", text_baseline="middle",
                        text_font=FONT, text_font_size=LABEL_FS, text_color=GRAY))
    pA.add_layout(Label(x=xq, y=1.690, text=t2, text_align="center", text_baseline="middle",
                        text_font=FONT, text_font_size=LABEL_FS, text_color=GRAY))
pA.add_layout(make_legend([
    LegendItem(label="Linear combination", renderers=[rA1]),
    LegendItem(label="Peptide + POPC", renderers=[rA2]),
    LegendItem(label="POPC only", renderers=[rA3]),
    LegendItem(label="Peptide only", renderers=[rA4]),
], (82, 1463)))

# ---------------- Panel B ----------------
pB = make_fig(1942, 2082, Range1d(0.03, 30), Range1d(1e-3, 1e5), True, (183, 51, 126, 160))
xb, yb = pB.below[0], pB.left[0]
xb.ticker = FixedTicker(ticks=LOG_X_TICKS, minor_ticks=LOG_X_MINOR)
yb.ticker = FixedTicker(ticks=LOG_Y_TICKS, minor_ticks=LOG_Y_MINOR)
style_axis(xb, standoff=18, label_standoff=17)
style_axis(yb, standoff=15, label_standoff=2)
xb.axis_label = "q [nm\u207b\u00b9]"
yb.axis_label = "Intensity [a.u.]"
add_mirror(pB, "above", True, LOG_X_TICKS, LOG_X_MINOR)
add_mirror(pB, "right", True, LOG_Y_TICKS, LOG_Y_MINOR)

bx, by = join(b_q_saxs, b_i_saxs, q_waxs, b_i_waxs)
rB1 = pB.scatter(bx, by, marker="x", size=MS, line_width=LW, color=RED)
rB2 = pB.line(model_q, model_i, line_color=RED, line_width=z(4))
pB.add_layout(make_legend([
    LegendItem(label="POPC only", renderers=[rB1]),
    LegendItem(label="Model", renderers=[rB2]),
], (1095, 1459)))

# ---------------- Panel C ----------------
pC = make_fig(2110, 2079, Range1d(0.03, 30), Range1d(1e-3, 1e5), True, (398, 3, 101, 182))
xc, yc = pC.below[0], pC.left[0]
xc.ticker = FixedTicker(ticks=LOG_X_TICKS, minor_ticks=LOG_X_MINOR)
yc.ticker = FixedTicker(ticks=LOG_Y_TICKS, minor_ticks=LOG_Y_MINOR)
style_axis(xc, standoff=18, label_standoff=25)
style_axis(yc, standoff=15, label_standoff=2)
xc.axis_label = "q [nm\u207b\u00b9]"
yc.axis_label = "Intensity [a.u.]"
add_mirror(pC, "above", True, LOG_X_TICKS, LOG_X_MINOR)
add_mirror(pC, "right", True, LOG_Y_TICKS, LOG_Y_MINOR)

cpx, cpy = join(c_q_saxs_pp, c_i_saxs_pp, q_waxs, c_i_waxs_pp)
clx, cly = join(c_q_saxs_lc, c_i_saxs_lc, q_waxs, c_i_waxs_lc)
rC1 = pC.scatter(cpx, cpy, marker="x", size=MS, line_width=LW, color=PURPLE)
rC2 = pC.scatter(clx, cly, marker="circle", size=z(14), line_width=z(3),
                 line_color=GRAY, fill_color=None)
pC.add_layout(make_legend([
    LegendItem(label="Peptide + POPC", renderers=[rC1]),
    LegendItem(label="Linear combination", renderers=[rC2]),
], (991, 1461)))

left_col = column(letter_div("A", 3, 9, 200), pA, letter_div("B", 10, 96, 200), pB)
right_col = column(Spacer(width=2110, height=981), letter_div("C", 215, 64, 300), pC)
layout = row(left_col, right_col)

with open("out.html", "w", encoding="utf-8") as f:
    f.write(file_html(layout, INLINE))
